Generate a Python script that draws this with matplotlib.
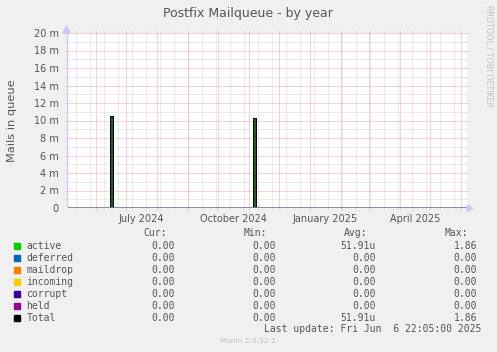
# Postfix Mailqueue - by year (munin / rrdtool style)

import matplotlib
matplotlib.use('Agg')
import matplotlib.pyplot as plt
from matplotlib.patches import Polygon
import pandas as pd

# Datos
t_start = pd.Timestamp('2024-05-02 22:05')
t_end = pd.Timestamp('2025-06-06 22:05')

spike_start = ['2024-06-14 12:00', '2024-11-05 00:00']
spike_end = ['2024-06-17 12:00', '2024-11-08 00:00']
active_peak = [10.55e-3, 10.3e-3]

label_dates = ['2024-07-16', '2024-10-16', '2025-01-16', '2025-04-16']
label_text = ['July 2024', 'October 2024', 'January 2025', 'April 2025']

y_ticks = [0, 2e-3, 4e-3, 6e-3, 8e-3, 10e-3, 12e-3, 14e-3, 16e-3, 18e-3, 20e-3]
y_labels = ['0', '2 m', '4 m', '6 m', '8 m', '10 m', '12 m', '14 m', '16 m', '18 m', '20 m']

series = ['active', 'deferred', 'maildrop', 'incoming', 'corrupt', 'held', 'Total']
colors = ['#00cc00', '#0066b3', '#ff8000', '#ffcc00', '#330099', '#990099', '#000000']
cur = ['0.00', '0.00', '0.00', '0.00', '0.00', '0.00', '0.00']
mins = ['0.00', '0.00', '0.00', '0.00', '0.00', '0.00', '0.00']
avgs = ['51.91u', '0.00', '0.00', '0.00', '0.00', '0.00', '51.91u']
maxs = ['1.86', '0.00', '0.00', '0.00', '0.00', '0.00', '1.86']

W, H = 497, 352
fig = plt.figure(figsize=(W / 100, H / 100), dpi=100, facecolor='#f0f0f0')

# area del grafico en pixeles
px0, px1, py0, py1 = 67, 467, 33, 208
ax = fig.add_axes([px0 / W, 1 - py1 / H, (px1 - px0) / W, (py1 - py0) / H])
ax.set_facecolor('white')
for s in ax.spines.values():
    s.set_visible(False)

ax.set_xlim(t_start, t_end)
ax.set_ylim(0, 0.020)

dot = (0, (1, 1))
minor_col = '#d6d6d6'
major_col = '#f4a4a4'
ex = 2 / (px1 - px0)
ey = 2 / (py1 - py0)
grid_kw = dict(lw=0.72, ls=dot, clip_on=False, zorder=1)

# rejilla vertical
for d in pd.date_range('2024-05-12', t_end, freq='14D'):
    ax.axvline(d, ymin=-ey, ymax=1 + ey, color=minor_col, **grid_kw)
for d in pd.date_range('2024-06-01', t_end, freq='MS'):
    ax.axvline(d, ymin=-ey, ymax=1 + ey, color=major_col, **grid_kw)

# rejilla horizontal
for i in range(1, 21, 2):
    ax.axhline(i * 1e-3, xmin=-ex, xmax=1 + ex, color=minor_col, **grid_kw)
for v in y_ticks[1:]:
    ax.axhline(v, xmin=-ex, xmax=1 + ex, color=major_col, **grid_kw)

# datos
for s0, s1, v in zip(spike_start, spike_end, active_peak):
    x = [pd.Timestamp(s0), pd.Timestamp(s1)]
    ax.fill_between(x, [v, v], 0, color='#1f5a1f', lw=0, zorder=3)
    ax.plot([x[0], x[0], x[1], x[1]], [0, v, v, 0], color='black', lw=0.72,
            zorder=4, antialiased=False)

# ejes
ax.axhline(0, color='#7d7497', lw=1.2, zorder=5)
ax.axvline(t_start, color='#c8c8f4', lw=1.0, zorder=5)
fig.patches.append(Polygon([[63 / W, 1 - 33 / H], [70 / W, 1 - 33 / H], [66.5 / W, 1 - 26 / H]],
                           closed=True, transform=fig.transFigure, color='#c8c8f4'))
fig.patches.append(Polygon([[467 / W, 1 - 205 / H], [467 / W, 1 - 211.5 / H], [473 / W, 1 - 208.3 / H]],
                           closed=True, transform=fig.transFigure, color='#c8c8f4'))

ax.set_xticks([pd.Timestamp(d) for d in label_dates])
ax.set_xticklabels(label_text)
ax.set_yticks(y_ticks)
ax.set_yticklabels(y_labels)
ax.tick_params(axis='both', length=0, labelsize=7, labelcolor='#555555')
ax.tick_params(axis='x', pad=4)
ax.tick_params(axis='y', pad=6)

ax.set_ylabel('Mails in queue', fontsize=8.2, color='#555555', labelpad=0)
ax.yaxis.set_label_coords(-(67 - 17) / (px1 - px0), 0.5)

def ft(x, y, s, **kw):
    fig.text(x / W, 1 - y / H, s, **kw)

ft(248, 13, 'Postfix Mailqueue - by year', ha='center', va='center', fontsize=9, color='#555555')
ft(488.5, 56, 'RRDTOOL / TOBI OETIKER', ha='center', va='center', rotation=270,
   fontsize=5.8, color='#c0c0c0')

# leyenda
mono = dict(family='DejaVu Sans Mono', fontsize=7, color='#555555', va='center')
col_x = [175, 276, 376, 477]
for cx, h in zip(col_x, ['Cur:', 'Min:', 'Avg:', 'Max:']):
    ft(cx - 8.5, 233.5, h, ha='right', **mono)
for i, name in enumerate(series):
    y = 245.7 + 12 * i
    fig.patches.append(Polygon([[14 / W, 1 - (y - 3) / H], [20 / W, 1 - (y - 3) / H],
                                [20 / W, 1 - (y + 3) / H], [14 / W, 1 - (y + 3) / H]],
                               closed=True, transform=fig.transFigure, color=colors[i]))
    ft(26.5, y, name, ha='left', **mono)
    for cx, vals in zip(col_x, [cur, mins, avgs, maxs]):
        ft(cx, y, vals[i], ha='right', **mono)

ft(481.7, 329, 'Last update: Fri Jun  6 22:05:00 2025', ha='right', **mono)
ft(247.5, 341, 'Munin 2.0.33-1', ha='center', va='center', fontsize=5.3, color='#c0c0c0')

fig.savefig('out.png', dpi=100, facecolor=fig.get_facecolor())
